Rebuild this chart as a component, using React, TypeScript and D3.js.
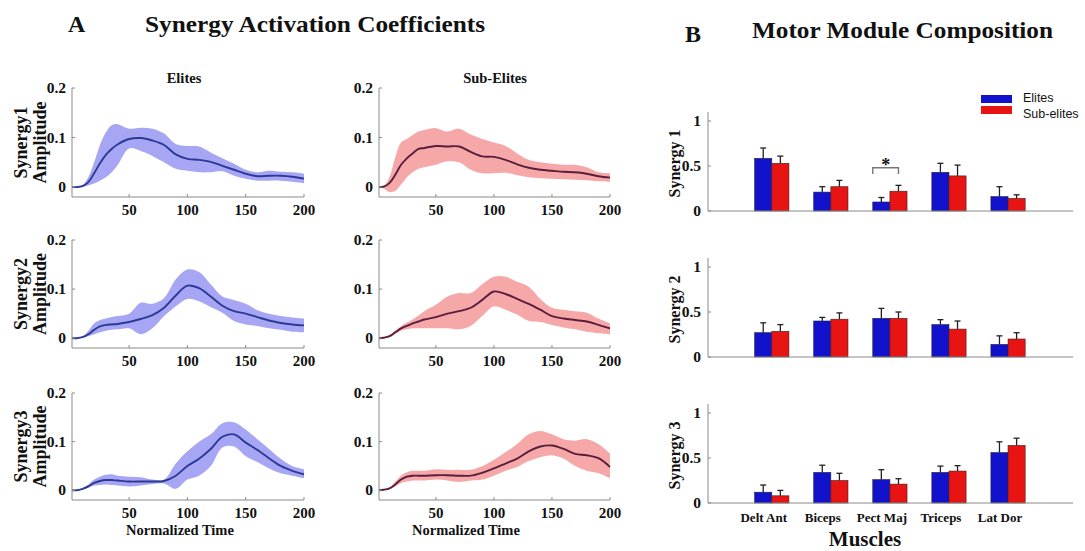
import React from 'react';
import * as d3 from 'd3';

// normalized time samples (x) for the activation curves
const TIME = [1, 5, 10, 15, 20, 25, 30, 35, 40, 50, 60, 70, 80, 90, 100, 110, 120, 130, 140, 150, 160, 170, 180, 190, 200];

// Synergy 1
const ELITE_MEAN_1 = [0, 0, 0.002, 0.01, 0.028, 0.048, 0.065, 0.077, 0.086, 0.097, 0.099, 0.094, 0.085, 0.066, 0.057, 0.055, 0.051, 0.043, 0.035, 0.027, 0.022, 0.023, 0.023, 0.021, 0.017];
const ELITE_UP_1 = [0, 0.001, 0.004, 0.02, 0.05, 0.085, 0.11, 0.125, 0.127, 0.118, 0.12, 0.118, 0.108, 0.087, 0.083, 0.082, 0.07, 0.058, 0.047, 0.035, 0.03, 0.033, 0.031, 0.03, 0.027];
const ELITE_LO_1 = [0, 0, 0, 0.003, 0.007, 0.013, 0.02, 0.03, 0.044, 0.078, 0.073, 0.063, 0.05, 0.037, 0.033, 0.03, 0.03, 0.032, 0.023, 0.017, 0.013, 0.013, 0.013, 0.011, 0.008];
const SUB_MEAN_1 = [0, 0.001, 0.008, 0.025, 0.045, 0.058, 0.068, 0.077, 0.079, 0.083, 0.082, 0.082, 0.071, 0.062, 0.061, 0.055, 0.046, 0.039, 0.035, 0.033, 0.031, 0.03, 0.027, 0.022, 0.019];
const SUB_UP_1 = [0, 0.002, 0.02, 0.06, 0.09, 0.097, 0.105, 0.112, 0.115, 0.119, 0.112, 0.118, 0.106, 0.097, 0.09, 0.083, 0.068, 0.055, 0.05, 0.047, 0.045, 0.045, 0.04, 0.03, 0.028];
const SUB_LO_1 = [0, -0.003, -0.01, -0.008, 0.005, 0.02, 0.03, 0.037, 0.04, 0.045, 0.052, 0.05, 0.035, 0.028, 0.028, 0.029, 0.024, 0.02, 0.018, 0.017, 0.016, 0.015, 0.014, 0.012, 0.011];

// Synergy 2
const ELITE_MEAN_2 = [0, 0, 0.002, 0.008, 0.017, 0.024, 0.027, 0.028, 0.029, 0.033, 0.039, 0.047, 0.062, 0.087, 0.107, 0.102, 0.085, 0.066, 0.055, 0.05, 0.043, 0.036, 0.031, 0.028, 0.026];
const ELITE_UP_2 = [0, 0.001, 0.003, 0.015, 0.03, 0.037, 0.04, 0.043, 0.045, 0.05, 0.072, 0.07, 0.082, 0.12, 0.14, 0.135, 0.11, 0.085, 0.078, 0.07, 0.057, 0.05, 0.045, 0.042, 0.04];
const ELITE_LO_2 = [0, 0, 0.001, 0.004, 0.008, 0.012, 0.015, 0.017, 0.018, 0.02, 0.008, 0.02, 0.045, 0.065, 0.08, 0.075, 0.063, 0.052, 0.035, 0.028, 0.025, 0.02, 0.017, 0.013, 0.012];
const SUB_MEAN_2 = [0, 0.001, 0.004, 0.012, 0.02, 0.025, 0.03, 0.034, 0.038, 0.043, 0.05, 0.055, 0.062, 0.078, 0.095, 0.09, 0.08, 0.07, 0.058, 0.045, 0.04, 0.037, 0.034, 0.027, 0.02];
const SUB_UP_2 = [0, 0.002, 0.006, 0.015, 0.025, 0.032, 0.038, 0.046, 0.055, 0.068, 0.085, 0.092, 0.092, 0.11, 0.125, 0.125, 0.115, 0.105, 0.08, 0.062, 0.058, 0.055, 0.052, 0.04, 0.03];
const SUB_LO_2 = [0, 0, 0.002, 0.008, 0.015, 0.018, 0.02, 0.02, 0.02, 0.02, 0.02, 0.018, 0.025, 0.045, 0.065, 0.058, 0.048, 0.035, 0.033, 0.027, 0.022, 0.018, 0.013, 0.01, 0.008];

// Synergy 3
const ELITE_MEAN_3 = [0, 0, 0.003, 0.008, 0.015, 0.019, 0.021, 0.021, 0.02, 0.018, 0.018, 0.018, 0.019, 0.03, 0.05, 0.065, 0.085, 0.11, 0.115, 0.098, 0.083, 0.066, 0.05, 0.04, 0.033];
const ELITE_UP_3 = [0, 0.001, 0.004, 0.012, 0.022, 0.028, 0.032, 0.033, 0.03, 0.028, 0.027, 0.022, 0.022, 0.055, 0.08, 0.1, 0.115, 0.138, 0.14, 0.125, 0.105, 0.085, 0.065, 0.05, 0.043];
const ELITE_LO_3 = [0, 0, 0.001, 0.005, 0.01, 0.011, 0.012, 0.011, 0.01, 0.008, 0.01, 0.013, 0.014, 0.003, 0.022, 0.03, 0.05, 0.088, 0.09, 0.07, 0.058, 0.045, 0.035, 0.03, 0.025];
const SUB_MEAN_3 = [0, 0.001, 0.004, 0.012, 0.022, 0.028, 0.03, 0.03, 0.03, 0.031, 0.031, 0.03, 0.03, 0.036, 0.045, 0.055, 0.065, 0.08, 0.09, 0.092, 0.085, 0.075, 0.072, 0.066, 0.048];
const SUB_UP_3 = [0, 0.002, 0.005, 0.018, 0.03, 0.037, 0.04, 0.04, 0.04, 0.043, 0.042, 0.042, 0.042, 0.05, 0.063, 0.078, 0.095, 0.115, 0.122, 0.115, 0.105, 0.102, 0.105, 0.095, 0.075];
const SUB_LO_3 = [0, 0, 0.002, 0.008, 0.015, 0.018, 0.02, 0.02, 0.02, 0.022, 0.02, 0.017, 0.02, 0.022, 0.03, 0.04, 0.048, 0.06, 0.068, 0.072, 0.065, 0.05, 0.04, 0.035, 0.025];

const TS_X_TICKS = [50, 100, 150, 200];
const TS_Y_TICKS = [0, 0.1, 0.2];

// motor module composition
const MUSCLES = ['Delt Ant', 'Biceps', 'Pect Maj', 'Triceps', 'Lat Dor'];
const ELITE_W_1 = [0.585, 0.21, 0.1, 0.43, 0.16];
const ELITE_SD_1 = [0.115, 0.06, 0.05, 0.1, 0.11];
const SUB_W_1 = [0.53, 0.27, 0.22, 0.39, 0.14];
const SUB_SD_1 = [0.08, 0.07, 0.065, 0.12, 0.04];
const ELITE_W_2 = [0.27, 0.4, 0.43, 0.36, 0.14];
const ELITE_SD_2 = [0.11, 0.04, 0.11, 0.055, 0.095];
const SUB_W_2 = [0.285, 0.42, 0.43, 0.31, 0.2];
const SUB_SD_2 = [0.075, 0.07, 0.07, 0.09, 0.07];
const ELITE_W_3 = [0.12, 0.34, 0.26, 0.34, 0.56];
const ELITE_SD_3 = [0.08, 0.08, 0.11, 0.07, 0.12];
const SUB_W_3 = [0.08, 0.25, 0.21, 0.355, 0.64];
const SUB_SD_3 = [0.06, 0.08, 0.06, 0.06, 0.08];
const BAR_Y_TICKS = [0, 0.5, 1];

const SERIF = '"Liberation Serif", "Times New Roman", serif';
const SANS = '"Liberation Sans", Arial, sans-serif';
const AXIS = '#8a8a8a';

const ELITE_FILL = '#a6a6f4';
const ELITE_LINE = '#2b3a96';
const SUB_FILL = '#f6a8a8';
const SUB_LINE = '#5a1e3c';
const BLUE = '#1212cc';
const RED = '#e81414';

type TSProps = {
  x0: number; x1: number; top: number; bottom: number;
  mean: number[]; up: number[]; lo: number[];
  fill: string; stroke: string;
};

const TimePanel = ({ x0, x1, top, bottom, mean, up, lo, fill, stroke }: TSProps) => {
  const x = d3.scaleLinear().domain([1, 200]).range([x0, x1]);
  const y = d3.scaleLinear().domain([-0.02, 0.2]).range([bottom, top]);
  const band = d3.area<number>()
    .x((_, i) => x(TIME[i]))
    .y0((_, i) => y(lo[i]))
    .y1((_, i) => y(up[i]))
    .curve(d3.curveCatmullRom.alpha(0.5));
  const line = d3.line<number>()
    .x((_, i) => x(TIME[i]))
    .y(d => y(d))
    .curve(d3.curveCatmullRom.alpha(0.5));
  return (
    <g>
      <path d={band(mean) || ''} fill={fill} />
      <path d={line(mean) || ''} fill="none" stroke={stroke} strokeWidth={1.9} />
      <line x1={x0} x2={x0} y1={top} y2={bottom} stroke={AXIS} />
      <line x1={x0} x2={x1} y1={bottom} y2={bottom} stroke={AXIS} />
      {TS_Y_TICKS.map(t => (
        <g key={t}>
          <line x1={x0} x2={x0 + 3} y1={y(t)} y2={y(t)} stroke={AXIS} />
          <text x={x0 - 6} y={y(t) + 5} textAnchor="end" fontSize={15.5} fontWeight="bold">{String(t)}</text>
        </g>
      ))}
      {TS_X_TICKS.map(t => (
        <g key={t}>
          <line x1={x(t)} x2={x(t)} y1={bottom} y2={bottom - 3} stroke={AXIS} />
          <text x={x(t)} y={bottom + 18} textAnchor="middle" fontSize={15} fontWeight="bold">{t}</text>
        </g>
      ))}
    </g>
  );
};

type BarProps = { top: number; bottom: number; elite: number[]; eliteSd: number[]; sub: number[]; subSd: number[] };

const xB = d3.scaleLinear().domain([-0.08, 6.1]).range([708, 1073]);
const HALF = 0.29;

const BarPanel = ({ top, bottom, elite, eliteSd, sub, subSd }: BarProps) => {
  const y = d3.scaleLinear().domain([0, 1.1]).range([bottom, top]);
  const bw = xB(HALF) - xB(0);
  const err = (cx: number, v: number, sd: number) => (
    <g>
      <line x1={cx} x2={cx} y1={y(v)} y2={y(v + sd)} stroke="#222" strokeWidth={1.3} />
      <line x1={cx - 3} x2={cx + 3} y1={y(v + sd)} y2={y(v + sd)} stroke="#222" strokeWidth={1.3} />
    </g>
  );
  return (
    <g>
      {MUSCLES.map((m, i) => {
        const c = xB(i + 1);
        return (
          <g key={m}>
            <rect x={c - bw} y={y(elite[i])} width={bw} height={y(0) - y(elite[i])} fill={BLUE} stroke="#202040" strokeWidth={0.6} />
            <rect x={c} y={y(sub[i])} width={bw} height={y(0) - y(sub[i])} fill={RED} stroke="#402020" strokeWidth={0.6} />
            {err(c - bw / 2, elite[i], eliteSd[i])}
            {err(c + bw / 2, sub[i], subSd[i])}
          </g>
        );
      })}
      <line x1={xB.range()[0]} x2={xB.range()[0]} y1={top} y2={bottom} stroke={AXIS} />
      <line x1={xB.range()[0]} x2={xB.range()[1]} y1={bottom} y2={bottom} stroke={AXIS} />
      {BAR_Y_TICKS.map(t => (
        <g key={t}>
          <line x1={xB.range()[0]} x2={xB.range()[0] + 3} y1={y(t)} y2={y(t)} stroke={AXIS} />
          <text x={xB.range()[0] - 7} y={y(t) + 5} textAnchor="end" fontSize={15.5} fontWeight="bold">{String(t)}</text>
        </g>
      ))}
    </g>
  );
};

const ROWS = [
  { top: 88, bottom: 197, label: 'Synergy1' },
  { top: 240, bottom: 348, label: 'Synergy2' },
  { top: 393, bottom: 500, label: 'Synergy3' },
];
const ELITE_SETS = [
  [ELITE_MEAN_1, ELITE_UP_1, ELITE_LO_1],
  [ELITE_MEAN_2, ELITE_UP_2, ELITE_LO_2],
  [ELITE_MEAN_3, ELITE_UP_3, ELITE_LO_3],
];
const SUB_SETS = [
  [SUB_MEAN_1, SUB_UP_1, SUB_LO_1],
  [SUB_MEAN_2, SUB_UP_2, SUB_LO_2],
  [SUB_MEAN_3, SUB_UP_3, SUB_LO_3],
];
const BAR_ROWS = [
  { top: 112, bottom: 211, label: 'Synergy 1', e: ELITE_W_1, es: ELITE_SD_1, s: SUB_W_1, ss: SUB_SD_1 },
  { top: 258, bottom: 357, label: 'Synergy 2', e: ELITE_W_2, es: ELITE_SD_2, s: SUB_W_2, ss: SUB_SD_2 },
  { top: 404, bottom: 503, label: 'Synergy 3', e: ELITE_W_3, es: ELITE_SD_3, s: SUB_W_3, ss: SUB_SD_3 },
];

export default function App() {
  const y1 = d3.scaleLinear().domain([0, 1.1]).range([211, 112]);
  const bw = xB(HALF) - xB(0);
  const c3 = xB(3);
  return (
    <svg width={1085} height={551} style={{ position: 'absolute', left: 0, top: 0, background: '#fff' }}
      fontFamily={SERIF} fill="#111">
      <text x={68} y={32} fontSize={24} fontWeight="bold">A</text>
      <text x={145} y={32} fontSize={24} fontWeight="bold" textLength={340} lengthAdjust="spacingAndGlyphs">Synergy Activation Coefficients</text>
      <text x={685} y={42} fontSize={24} fontWeight="bold">B</text>
      <text x={752} y={38} fontSize={24} fontWeight="bold" textLength={301} lengthAdjust="spacingAndGlyphs">Motor Module Composition</text>

      <text x={184} y={83} textAnchor="middle" fontSize={14.5} fontWeight="bold">Elites</text>
      <text x={495} y={83} textAnchor="middle" fontSize={14.5} fontWeight="bold">Sub-Elites</text>

      {ROWS.map((r, i) => {
        const mid = (r.top + r.bottom) / 2;
        return (
          <g key={r.label}>
            <TimePanel x0={72} x1={304} top={r.top} bottom={r.bottom}
              mean={ELITE_SETS[i][0]} up={ELITE_SETS[i][1]} lo={ELITE_SETS[i][2]}
              fill={ELITE_FILL} stroke={ELITE_LINE} />
            <TimePanel x0={379} x1={610} top={r.top} bottom={r.bottom}
              mean={SUB_SETS[i][0]} up={SUB_SETS[i][1]} lo={SUB_SETS[i][2]}
              fill={SUB_FILL} stroke={SUB_LINE} />
            <text transform={`translate(27,${mid}) rotate(-90)`} textAnchor="middle" fontSize={18} fontWeight="bold">{r.label}</text>
            <text transform={`translate(46,${mid}) rotate(-90)`} textAnchor="middle" fontSize={18} fontWeight="bold">Amplitude</text>
          </g>
        );
      })}
      <text x={180} y={535} textAnchor="middle" fontSize={14.5} fontWeight="bold">Normalized Time</text>
      <text x={466} y={535} textAnchor="middle" fontSize={14.5} fontWeight="bold">Normalized Time</text>

      {BAR_ROWS.map(r => (
        <g key={r.label}>
          <BarPanel top={r.top} bottom={r.bottom} elite={r.e} eliteSd={r.es} sub={r.s} subSd={r.ss} />
          <text transform={`translate(680,${(r.top + r.bottom) / 2 + 2}) rotate(-90)`} textAnchor="middle" fontSize={16} fontWeight="bold">{r.label}</text>
        </g>
      ))}

      {/* significance bracket, Pect Maj in synergy 1 */}
      <path d={`M${c3 - bw},${y1(0.41)}V${y1(0.48)}H${c3 + bw / 2}V${y1(0.41)}`} fill="none" stroke="#777" strokeWidth={1.4} />
      <text x={c3 - bw / 4} y={171} textAnchor="middle" fontSize={18} fontWeight="bold">*</text>

      {MUSCLES.map((m, i) => (
        <text key={m} x={xB(i + 1) - 8} y={522} textAnchor="middle" fontSize={13} fontWeight="bold">{m}</text>
      ))}
      <text x={865} y={546} textAnchor="middle" fontSize={21} fontWeight="bold">Muscles</text>

      {/* legend */}
      <rect x={981} y={95} width={31} height={8} fill={BLUE} />
      <rect x={981} y={106} width={31} height={8} fill={RED} />
      <text x={1023} y={102} fontFamily={SANS} fontSize={12.5}>Elites</text>
      <text x={1023} y={118} fontFamily={SANS} fontSize={12.5}>Sub-elites</text>
    </svg>
  );
}
